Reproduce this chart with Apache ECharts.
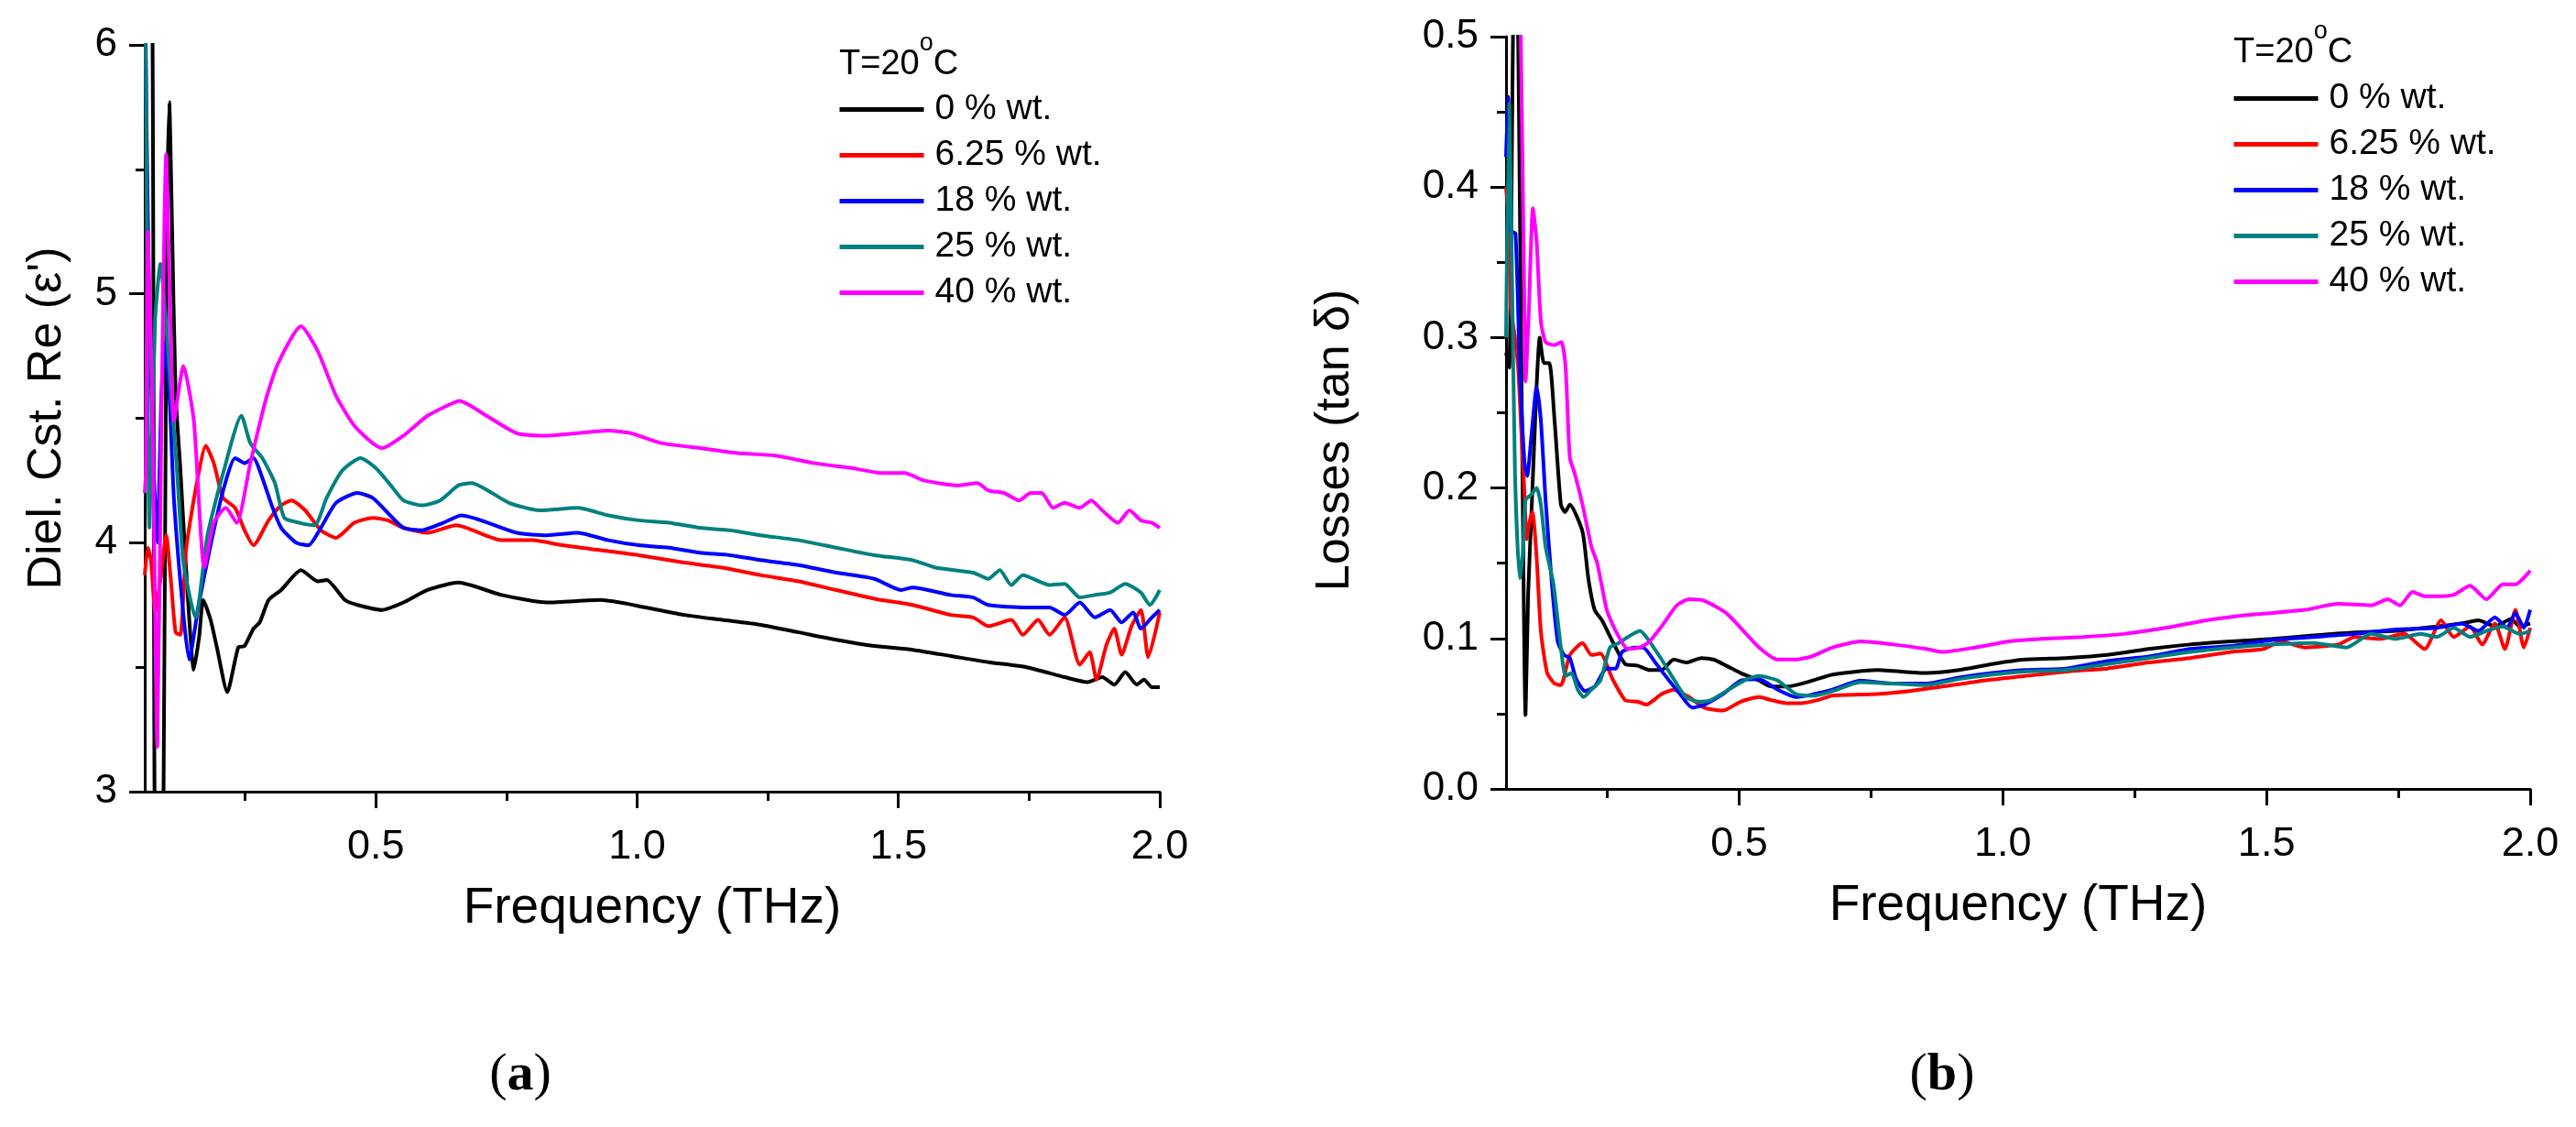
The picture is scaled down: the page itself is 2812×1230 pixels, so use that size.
<!DOCTYPE html>
<html>
<head>
<meta charset="utf-8">
<script src="https://cdn.jsdelivr.net/npm/echarts@6/dist/echarts.min.js"></script>
<style>
  html, body { margin: 0; padding: 0; background: #fff; }
  #chart { width: 2812px; height: 1230px; }
</style>
</head>
<body>
<div id="chart"></div>
<script>
// series names (legend)
var names = ['0 % wt.', '6.25 % wt.', '18 % wt.', '25 % wt.', '40 % wt.'];
var colors = ['#000000', '#ff0000', '#0000ff', '#008080', '#ff00ff'];

// tick values
var xMajor = [0.5, 1.0, 1.5, 2.0];
var xMinor = [0.25, 0.75, 1.25, 1.75];

// (a) dielectric constant, [THz, eps']
var re0 = [[0.058, 6.5], [0.072, 6.3], [0.078, 2.8], [0.088, 2.8], [0.094, 3.0], [0.100, 5.2], [0.105, 5.77], [0.110, 5.3], [0.117, 4.6], [0.126, 4.3], [0.137, 3.9], [0.152, 3.49], [0.162, 3.62], [0.170, 3.77], [0.184, 3.69], [0.196, 3.58], [0.216, 3.40], [0.237, 3.58], [0.249, 3.585], [0.266, 3.655], [0.278, 3.68], [0.295, 3.77], [0.319, 3.81], [0.357, 3.89], [0.389, 3.845], [0.406, 3.85], [0.441, 3.77], [0.465, 3.75], [0.512, 3.73], [0.553, 3.76], [0.599, 3.81], [0.658, 3.84], [0.741, 3.79], [0.828, 3.76], [0.93, 3.77], [1.017, 3.74], [1.09, 3.71], [1.163, 3.69], [1.236, 3.67], [1.309, 3.64], [1.381, 3.61], [1.454, 3.585], [1.527, 3.57], [1.6, 3.545], [1.672, 3.52], [1.745, 3.50], [1.818, 3.46], [1.862, 3.44], [1.89, 3.46], [1.913, 3.43], [1.934, 3.48], [1.956, 3.43], [1.97, 3.45], [1.985, 3.42], [2.0, 3.42]];
var re1 = [[0.058, 3.87], [0.064, 3.98], [0.070, 3.93], [0.078, 3.72], [0.088, 3.85], [0.099, 4.03], [0.108, 3.85], [0.117, 3.64], [0.126, 3.63], [0.137, 3.97], [0.155, 4.21], [0.175, 4.39], [0.190, 4.32], [0.208, 4.18], [0.231, 4.14], [0.249, 4.05], [0.266, 3.99], [0.295, 4.09], [0.319, 4.15], [0.339, 4.17], [0.365, 4.13], [0.395, 4.05], [0.424, 4.02], [0.459, 4.08], [0.494, 4.10], [0.523, 4.09], [0.553, 4.06], [0.599, 4.04], [0.654, 4.07], [0.741, 4.01], [0.80, 4.01], [0.857, 3.99], [0.93, 3.97], [1.003, 3.95], [1.09, 3.92], [1.163, 3.90], [1.236, 3.87], [1.309, 3.845], [1.381, 3.81], [1.454, 3.775], [1.527, 3.75], [1.6, 3.71], [1.643, 3.70], [1.672, 3.665], [1.716, 3.69], [1.738, 3.63], [1.767, 3.69], [1.789, 3.63], [1.818, 3.70], [1.847, 3.51], [1.866, 3.56], [1.879, 3.45], [1.898, 3.59], [1.913, 3.655], [1.927, 3.55], [1.946, 3.665], [1.964, 3.73], [1.978, 3.54], [2.0, 3.72]];
var re2 = [[0.058, 6.3], [0.066, 5.0], [0.075, 4.3], [0.082, 4.0], [0.090, 4.6], [0.096, 4.8], [0.105, 4.6], [0.114, 4.17], [0.132, 3.71], [0.143, 3.53], [0.161, 3.75], [0.184, 3.99], [0.208, 4.21], [0.231, 4.34], [0.249, 4.32], [0.266, 4.34], [0.283, 4.26], [0.301, 4.15], [0.319, 4.06], [0.348, 4.0], [0.371, 3.99], [0.395, 4.06], [0.424, 4.16], [0.465, 4.20], [0.494, 4.18], [0.523, 4.12], [0.553, 4.06], [0.588, 4.05], [0.629, 4.08], [0.664, 4.11], [0.77, 4.04], [0.828, 4.03], [0.886, 4.04], [0.945, 4.01], [1.003, 3.99], [1.061, 3.98], [1.12, 3.96], [1.178, 3.95], [1.236, 3.93], [1.309, 3.91], [1.381, 3.88], [1.454, 3.855], [1.505, 3.81], [1.527, 3.82], [1.6, 3.79], [1.643, 3.78], [1.672, 3.75], [1.745, 3.74], [1.789, 3.74], [1.818, 3.71], [1.847, 3.76], [1.876, 3.70], [1.905, 3.73], [1.927, 3.68], [1.949, 3.72], [1.964, 3.655], [1.985, 3.70], [2.0, 3.73]];
var re3 = [[0.058, 6.3], [0.060, 6.0], [0.067, 4.06], [0.078, 4.9], [0.088, 5.12], [0.105, 4.70], [0.120, 4.28], [0.132, 3.92], [0.155, 3.70], [0.178, 4.03], [0.208, 4.28], [0.243, 4.51], [0.260, 4.40], [0.283, 4.34], [0.307, 4.24], [0.325, 4.10], [0.354, 4.08], [0.383, 4.07], [0.406, 4.18], [0.436, 4.29], [0.471, 4.34], [0.500, 4.30], [0.529, 4.23], [0.553, 4.17], [0.588, 4.15], [0.623, 4.17], [0.658, 4.23], [0.683, 4.24], [0.755, 4.16], [0.814, 4.13], [0.886, 4.14], [0.945, 4.11], [1.003, 4.09], [1.061, 4.08], [1.12, 4.06], [1.178, 4.05], [1.236, 4.03], [1.309, 4.01], [1.381, 3.98], [1.454, 3.95], [1.527, 3.93], [1.571, 3.90], [1.643, 3.88], [1.672, 3.855], [1.694, 3.89], [1.716, 3.83], [1.738, 3.87], [1.789, 3.83], [1.818, 3.835], [1.847, 3.78], [1.876, 3.79], [1.905, 3.80], [1.934, 3.835], [1.964, 3.80], [1.981, 3.75], [2.0, 3.81]];
var re4 = [[0.058, 4.2], [0.060, 4.28], [0.064, 5.25], [0.073, 4.49], [0.082, 3.18], [0.090, 4.5], [0.099, 5.56], [0.107, 4.9], [0.114, 4.49], [0.132, 4.71], [0.152, 4.49], [0.172, 3.90], [0.190, 4.08], [0.213, 4.14], [0.234, 4.08], [0.260, 4.32], [0.289, 4.57], [0.313, 4.72], [0.357, 4.87], [0.389, 4.77], [0.424, 4.59], [0.459, 4.47], [0.494, 4.40], [0.512, 4.38], [0.553, 4.43], [0.599, 4.51], [0.646, 4.56], [0.66, 4.57], [0.712, 4.51], [0.77, 4.44], [0.828, 4.43], [0.886, 4.44], [0.945, 4.45], [0.988, 4.44], [1.047, 4.40], [1.12, 4.38], [1.192, 4.36], [1.265, 4.35], [1.338, 4.32], [1.41, 4.30], [1.469, 4.28], [1.512, 4.28], [1.549, 4.25], [1.614, 4.23], [1.651, 4.24], [1.672, 4.21], [1.702, 4.20], [1.731, 4.17], [1.753, 4.20], [1.774, 4.20], [1.796, 4.14], [1.818, 4.16], [1.847, 4.14], [1.869, 4.17], [1.89, 4.13], [1.92, 4.08], [1.942, 4.13], [1.964, 4.09], [1.985, 4.08], [2.0, 4.06]];

// (b) losses, [THz, tan delta]
var tan0 = [[0.058, 0.29], [0.064, 0.28], [0.072, 0.52], [0.078, 0.55], [0.088, 0.25], [0.095, 0.049], [0.100, 0.13], [0.107, 0.19], [0.115, 0.26], [0.122, 0.30], [0.130, 0.283], [0.140, 0.283], [0.150, 0.245], [0.162, 0.189], [0.170, 0.184], [0.179, 0.189], [0.203, 0.171], [0.214, 0.14], [0.226, 0.119], [0.24, 0.112], [0.26, 0.098], [0.284, 0.083], [0.307, 0.082], [0.330, 0.079], [0.353, 0.079], [0.376, 0.086], [0.40, 0.084], [0.428, 0.087], [0.451, 0.086], [0.475, 0.082], [0.503, 0.077], [0.538, 0.072], [0.561, 0.068], [0.590, 0.068], [0.619, 0.070], [0.648, 0.073], [0.677, 0.076], [0.761, 0.079], [0.855, 0.077], [0.917, 0.079], [0.98, 0.083], [1.042, 0.086], [1.12, 0.087], [1.198, 0.089], [1.277, 0.093], [1.355, 0.096], [1.433, 0.098], [1.511, 0.0997], [1.589, 0.102], [1.667, 0.104], [1.745, 0.105], [1.823, 0.108], [1.87, 0.11], [1.902, 0.112], [1.933, 0.108], [1.964, 0.113], [1.98, 0.108], [2.0, 0.11]];
var tan1 = [[0.058, 0.40], [0.064, 0.374], [0.067, 0.32], [0.075, 0.30], [0.081, 0.28], [0.087, 0.238], [0.093, 0.196], [0.097, 0.166], [0.101, 0.175], [0.108, 0.184], [0.116, 0.154], [0.124, 0.105], [0.136, 0.077], [0.150, 0.070], [0.162, 0.069], [0.179, 0.089], [0.203, 0.097], [0.220, 0.089], [0.237, 0.090], [0.260, 0.073], [0.284, 0.059], [0.307, 0.058], [0.324, 0.056], [0.353, 0.063], [0.376, 0.066], [0.405, 0.061], [0.434, 0.054], [0.469, 0.052], [0.503, 0.058], [0.538, 0.061], [0.561, 0.059], [0.590, 0.057], [0.619, 0.057], [0.648, 0.059], [0.677, 0.062], [0.761, 0.063], [0.823, 0.065], [0.886, 0.068], [0.964, 0.072], [1.042, 0.075], [1.12, 0.078], [1.198, 0.08], [1.277, 0.084], [1.355, 0.087], [1.433, 0.091], [1.495, 0.093], [1.527, 0.098], [1.573, 0.094], [1.636, 0.096], [1.667, 0.101], [1.714, 0.0997], [1.761, 0.103], [1.8, 0.093], [1.831, 0.112], [1.855, 0.101], [1.886, 0.108], [1.909, 0.096], [1.933, 0.11], [1.952, 0.093], [1.972, 0.119], [1.988, 0.094], [2.0, 0.107]];
var tan2 = [[0.058, 0.42], [0.062, 0.46], [0.067, 0.371], [0.076, 0.369], [0.084, 0.28], [0.093, 0.217], [0.098, 0.208], [0.107, 0.238], [0.116, 0.267], [0.124, 0.245], [0.133, 0.192], [0.145, 0.136], [0.156, 0.098], [0.168, 0.089], [0.179, 0.087], [0.191, 0.073], [0.208, 0.065], [0.226, 0.068], [0.249, 0.080], [0.266, 0.080], [0.278, 0.091], [0.301, 0.094], [0.318, 0.094], [0.341, 0.084], [0.365, 0.073], [0.388, 0.063], [0.411, 0.054], [0.434, 0.056], [0.469, 0.063], [0.503, 0.072], [0.538, 0.073], [0.573, 0.066], [0.608, 0.061], [0.642, 0.063], [0.677, 0.066], [0.73, 0.072], [0.792, 0.070], [0.855, 0.070], [0.917, 0.074], [0.98, 0.077], [1.042, 0.079], [1.12, 0.08], [1.198, 0.085], [1.277, 0.088], [1.355, 0.093], [1.433, 0.095], [1.511, 0.099], [1.589, 0.101], [1.667, 0.103], [1.745, 0.106], [1.823, 0.107], [1.87, 0.11], [1.902, 0.105], [1.933, 0.114], [1.956, 0.107], [1.972, 0.117], [1.988, 0.107], [2.0, 0.119]];
var tan3 = [[0.058, 0.30], [0.064, 0.456], [0.069, 0.35], [0.075, 0.21], [0.084, 0.14], [0.090, 0.157], [0.095, 0.192], [0.107, 0.196], [0.116, 0.20], [0.124, 0.189], [0.133, 0.161], [0.148, 0.136], [0.162, 0.094], [0.171, 0.075], [0.182, 0.077], [0.194, 0.066], [0.205, 0.061], [0.220, 0.066], [0.237, 0.072], [0.255, 0.094], [0.272, 0.097], [0.289, 0.101], [0.312, 0.105], [0.330, 0.098], [0.353, 0.086], [0.376, 0.073], [0.399, 0.061], [0.422, 0.058], [0.446, 0.059], [0.480, 0.066], [0.515, 0.073], [0.538, 0.075], [0.573, 0.072], [0.608, 0.063], [0.642, 0.062], [0.677, 0.065], [0.73, 0.071], [0.792, 0.070], [0.855, 0.069], [0.917, 0.073], [0.98, 0.076], [1.042, 0.078], [1.12, 0.079], [1.198, 0.083], [1.277, 0.087], [1.355, 0.091], [1.433, 0.094], [1.511, 0.096], [1.589, 0.097], [1.652, 0.094], [1.698, 0.103], [1.745, 0.0997], [1.792, 0.103], [1.823, 0.101], [1.855, 0.107], [1.886, 0.101], [1.917, 0.105], [1.948, 0.108], [1.98, 0.103], [2.0, 0.105]];
var tan4 = [[0.058, 0.70], [0.080, 0.60], [0.086, 0.50], [0.093, 0.315], [0.095, 0.271], [0.101, 0.315], [0.109, 0.386], [0.116, 0.364], [0.124, 0.311], [0.133, 0.297], [0.150, 0.295], [0.163, 0.297], [0.171, 0.28], [0.179, 0.22], [0.188, 0.21], [0.203, 0.189], [0.220, 0.161], [0.231, 0.150], [0.249, 0.119], [0.266, 0.105], [0.289, 0.093], [0.312, 0.094], [0.330, 0.098], [0.353, 0.108], [0.382, 0.122], [0.405, 0.126], [0.434, 0.125], [0.475, 0.117], [0.503, 0.107], [0.538, 0.094], [0.573, 0.086], [0.608, 0.086], [0.637, 0.088], [0.677, 0.094], [0.73, 0.098], [0.792, 0.096], [0.855, 0.093], [0.886, 0.091], [0.948, 0.094], [1.011, 0.098], [1.073, 0.0997], [1.152, 0.101], [1.23, 0.103], [1.308, 0.107], [1.386, 0.112], [1.448, 0.115], [1.511, 0.117], [1.573, 0.119], [1.636, 0.123], [1.698, 0.122], [1.73, 0.126], [1.753, 0.122], [1.777, 0.131], [1.8, 0.128], [1.823, 0.128], [1.855, 0.129], [1.886, 0.135], [1.917, 0.126], [1.948, 0.136], [1.972, 0.136], [2.0, 0.145]];

var reData = [re0, re1, re2, re3, re4];
var tanData = [tan0, tan1, tan2, tan3, tan4];

var FONT = '"Liberation Sans", Arial, sans-serif';
var SERIF = '"Liberation Serif", "Times New Roman", serif';

// labelled x axis (line, labels, name), no ticks
function xAxisMain(grid) {
    return {
        type: 'value', gridIndex: grid, min: 0.058, max: 2.0, position: 'bottom',
        name: 'Frequency (THz)', nameLocation: 'middle', nameGap: 100,
        nameTextStyle: { fontSize: 55, color: '#000', fontFamily: FONT },
        axisLine: { show: true, lineStyle: { color: '#000', width: 3 } },
        axisTick: { show: false },
        axisLabel: { fontSize: 45, color: '#000', fontFamily: FONT, margin: 38, customValues: xMajor,
            formatter: function (v) { return v.toFixed(1); } },
        splitLine: { show: false }
    };
}
// tick-only x axis
function xAxisTicks(grid, values, len) {
    return {
        type: 'value', gridIndex: grid, min: 0.058, max: 2.0, position: 'bottom',
        axisLine: { show: false },
        axisTick: { show: true, length: len, lineStyle: { color: '#000', width: 3 }, customValues: values },
        axisLabel: { show: false, customValues: values },
        splitLine: { show: false }
    };
}
function yAxisOpt(grid, min, max, step, name, gap, pad, fmt) {
    return {
        type: 'value', gridIndex: grid, min: min, max: max, interval: step,
        name: name, nameLocation: 'middle', nameGap: gap,
        nameTextStyle: { fontSize: 52, color: '#000', fontFamily: FONT, padding: pad },
        axisLine: { show: true, lineStyle: { color: '#000', width: 3 } },
        axisTick: { show: true, length: 17, lineStyle: { color: '#000', width: 3 } },
        minorTick: { show: true, splitNumber: 2, length: 10, lineStyle: { color: '#000', width: 3 } },
        axisLabel: { fontSize: 44, color: '#000', fontFamily: FONT, margin: 30, formatter: fmt },
        splitLine: { show: false }, minorSplitLine: { show: false }
    };
}

var series = [];
names.forEach(function (n, i) {
    series.push({
        name: n, type: 'line', xAxisIndex: 0, yAxisIndex: 0, data: reData[i],
        symbol: 'none', smooth: 0.2, clip: true,
        lineStyle: { color: colors[i], width: 4 }, itemStyle: { color: colors[i] }
    });
});
names.forEach(function (n, i) {
    series.push({
        name: n, type: 'line', xAxisIndex: 3, yAxisIndex: 1, data: tanData[i],
        symbol: 'none', smooth: 0.2, clip: true,
        lineStyle: { color: colors[i], width: 4 }, itemStyle: { color: colors[i] }
    });
});

function legendAt(left, top) {
    return {
        orient: 'vertical', left: left, top: top, data: names, padding: 0,
        itemWidth: 92, itemHeight: 40, itemGap: 11, selectedMode: false,
        itemStyle: { opacity: 0 },
        lineStyle: { width: 5 },
        textStyle: { fontSize: 39, color: '#000', fontFamily: FONT, padding: [0, 0, 0, 7] }
    };
}
function tempTitle(left, top) {
    return {
        text: '{m|T=20}{s|o}{m|C}', left: left, top: top, padding: 0,
        textStyle: {
            fontSize: 38, fontWeight: 'normal', color: '#000', fontFamily: FONT,
            rich: {
                m: { fontSize: 38, lineHeight: 56, verticalAlign: 'bottom', fontFamily: FONT, color: '#000' },
                s: { fontSize: 27, lineHeight: 27, verticalAlign: 'top', fontFamily: FONT, color: '#000' }
            }
        }
    };
}
function panelTitle(txt, left) {
    return {
        text: '({b|' + txt + '})', left: left, top: 1140, textAlign: 'center',
        textStyle: {
            fontSize: 58, fontWeight: 'normal', color: '#000', fontFamily: SERIF,
            rich: { b: { fontSize: 58, fontWeight: 'bold', color: '#000', fontFamily: SERIF } }
        }
    };
}

var chart = echarts.init(document.getElementById('chart'));
chart.setOption({
    animation: false,
    backgroundColor: '#fff',
    title: [tempTitle(916, 34), tempTitle(2438, 21), panelTitle('a', 563), panelTitle('b', 2115)],
    legend: [legendAt(914, 100), legendAt(2436, 88)],
    grid: [
        { left: 158, top: 49, width: 1108, height: 815 },
        { left: 1644, top: 40, width: 1118, height: 821 }
    ],
    xAxis: [
        xAxisMain(0), xAxisTicks(0, xMajor, 18), xAxisTicks(0, xMinor, 10),
        xAxisMain(1), xAxisTicks(1, xMajor, 18), xAxisTicks(1, xMinor, 10)
    ],
    yAxis: [
        yAxisOpt(0, 3, 6, 1, "Diel. Cst. Re (\u03b5')", 80, [0, 0, 0, 0], function (v) { return String(v); }),
        yAxisOpt(1, 0, 0.5, 0.1, 'Losses (tan \u03b4)', 160, [0, 60, 0, 0], function (v) { return v.toFixed(1); })
    ],
    series: series
});
</script>
</body>
</html>
